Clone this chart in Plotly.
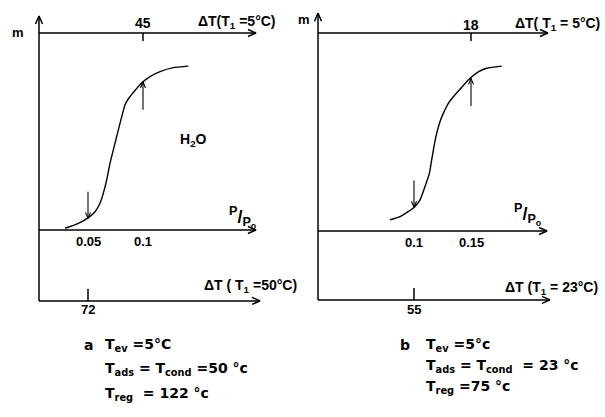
import plotly.graph_objects as go

# ---------------- data ----------------
# panel a: relative pressure P/Po and uptake m (arbitrary units, 0..1)
p_a = [0.0291, 0.0397, 0.0494, 0.0564, 0.0609, 0.0639, 0.0670, 0.0700, 0.0745,
       0.0791, 0.0836, 0.0866, 0.0927, 0.0997, 0.1064, 0.1155, 0.1275, 0.1412]
m_a = [0.009, 0.030, 0.059, 0.093, 0.136, 0.186, 0.254, 0.338, 0.440,
       0.541, 0.635, 0.665, 0.708, 0.751, 0.779, 0.804, 0.824, 0.832]
# panel b
p_b = [0.0789, 0.0877, 0.1003, 0.1053, 0.1096, 0.1135, 0.1155, 0.1175, 0.1199,
       0.1228, 0.1257, 0.1301, 0.1345, 0.1419, 0.1491, 0.1564, 0.1638, 0.1769]
m_b = [0.056, 0.072, 0.120, 0.157, 0.224, 0.291, 0.359, 0.426, 0.493,
       0.552, 0.594, 0.645, 0.678, 0.726, 0.771, 0.804, 0.822, 0.833]

# P/Po ticks
pticks_a = [0.05, 0.1]
pticklabels_a = ["0.05", "0.1"]
pticks_b = [0.1, 0.15]
pticklabels_b = ["0.1", "0.15"]

# Delta T ticks (top axis T1 = 5 C, bottom axis T1 = Tads)
dT_top_pos_a, dT_top_lab_a = 0.1, "45"
dT_bot_pos_a, dT_bot_lab_a = 0.05, "72"
dT_top_pos_b, dT_top_lab_b = 0.15, "18"
dT_bot_pos_b, dT_bot_lab_b = 0.1, "55"

# arrow markers on the curves (P/Po, m of head)
down_a, up_a = (0.05, 0.059), (0.1, 0.751)
down_b, up_b = (0.1, 0.120), (0.15, 0.771)

W, H = 605, 417
FONT = "Liberation Sans, Arial, sans-serif"
FONT_BLOCK = "DejaVu Sans, Verdana, sans-serif"

# page geometry of each panel: px = X0 + SX*P, py = Y0 - SY*m
GEOM = {"a": (33, 1100, 230, 197), "b": (300, 1140, 231, 198)}

fig = go.Figure()
ann = []


def to_px(g, x, y):
    X0, SX, Y0, SY = GEOM[g]
    return X0 + SX * x, Y0 - SY * y


def to_data(g, px, py):
    X0, SX, Y0, SY = GEOM[g]
    return (px - X0) / SX, (Y0 - py) / SY


def arrow_path(g, x0, y0, x1, y1, L=8, w=3.5):
    """line from (x0,y0) to (x1,y1) with a V head at the end (data coords)."""
    ax_, ay_ = to_px(g, x0, y0)
    bx, by = to_px(g, x1, y1)
    d = ((bx - ax_) ** 2 + (by - ay_) ** 2) ** 0.5
    ux, uy = (bx - ax_) / d, (by - ay_) / d
    h1 = to_data(g, bx - L * ux - w * uy, by - L * uy + w * ux)
    h2 = to_data(g, bx - L * ux + w * uy, by - L * uy - w * ux)
    xs = [x0, x1, None, h1[0], x1, h2[0], None]
    ys = [y0, y1, None, h1[1], y1, h2[1], None]
    return xs, ys


def text(xr, yr, x, y, s, size=13, xanchor="center", yanchor="middle"):
    ann.append(dict(xref=xr, yref=yr, x=x, y=y, text=s, showarrow=False,
                    xanchor=xanchor, yanchor=yanchor,
                    font=dict(family=FONT, size=size, color="black")))


def panel(g, xr, yr, px, py, x0, ybot, ytop_tip, x_top_end, x_mid_end, x_bot_end,
          pt, ptl, tpos, tlab, bpos, blab, dn, upa, mlab, dlab_top, dlab_bot,
          pp_lab, top_lab, bot_lab, curve_lab=None):
    # curve
    fig.add_trace(go.Scatter(x=px, y=py, mode="lines", xaxis=xr, yaxis=yr,
                             line=dict(color="black", width=1.4, shape="spline", smoothing=0.5),
                             showlegend=False, hoverinfo="skip"))
    xs, ys = [], []
    for seg in [(x0, ybot, x0, ytop_tip), (x0, 1.0, x_top_end, 1.0),
                (x0, 0.0, x_mid_end, 0.0), (x0, ybot, x_bot_end, ybot)]:
        a, b = arrow_path(g, *seg)
        xs += a
        ys += b
    # ticks
    xs += [tpos, tpos, None, bpos, bpos, None]
    ys += [1.0, 0.96, None, ybot, ybot + 0.06, None]
    fig.add_trace(go.Scatter(x=xs, y=ys, mode="lines", xaxis=xr, yaxis=yr,
                             line=dict(color="black", width=1.5),
                             showlegend=False, hoverinfo="skip"))
    # marker arrows on curve
    xs, ys = [], []
    for seg in [(dn[0], dn[1] + 0.135, dn[0], dn[1]), (upa[0], upa[1] - 0.14, upa[0], upa[1])]:
        a, b = arrow_path(g, *seg, L=6, w=2.5)
        xs += a
        ys += b
    fig.add_trace(go.Scatter(x=xs, y=ys, mode="lines", xaxis=xr, yaxis=yr,
                             line=dict(color="black", width=1.1),
                             showlegend=False, hoverinfo="skip"))
    # labels
    for v, l in zip(pt, ptl):
        text(xr, yr, v, -0.06, "<b>" + l + "</b>", size=13)
    text(xr, yr, tpos, dlab_top, "<b>" + tlab + "</b>", size=14)
    text(xr, yr, bpos, dlab_bot, "<b>" + blab + "</b>", size=13)
    text(xr, yr, mlab[0], mlab[1], "<b>m</b>", size=13)
    text(xr, yr, pp_lab[0], pp_lab[1], "<b><sup>P</sup>/<sub>P<sub>o</sub></sub></b>", size=18)
    text(xr, yr, top_lab[0], top_lab[1], top_lab[2], size=14)
    text(xr, yr, bot_lab[0], bot_lab[1], bot_lab[2], size=14)
    if curve_lab:
        text(xr, yr, curve_lab[0], curve_lab[1], curve_lab[2], size=14)


panel("a", "x", "y", p_a, m_a, 0.00545, -0.360, 1.086, 0.2027, 0.2027, 0.2064,
      pticks_a, pticklabels_a, dT_top_pos_a, dT_top_lab_a, dT_bot_pos_a, dT_bot_lab_a,
      down_a, up_a, (-0.0136, 1.005), 1.05, -0.401, (0.191, 0.061),
      (0.1855, 1.056, "<b>ΔT(T<sub>1</sub> =5°C)</b>"),
      (0.198, -0.284, "<b>ΔT ( T<sub>1</sub> =50°C)</b>"),
      (0.1455, 0.457, "<b>H<sub>2</sub>O</b>"))

panel("b", "x2", "y2", p_b, m_b, 0.0158, -0.348, 1.10, 0.2175, 0.2167, 0.2193,
      pticks_b, pticklabels_b, dT_top_pos_b, dT_top_lab_b, dT_bot_pos_b, dT_bot_lab_b,
      down_b, up_b, (0.0035, 1.066), 1.04, -0.394, (0.2, 0.081),
      (0.2263, 1.045, "<b>ΔT( T<sub>1</sub> = 5°C)</b>"),
      (0.221, -0.288, "<b>ΔT (T<sub>1</sub> = 23°C)</b>"))


# condition text blocks (paper coordinates from pixel positions)
def ptext(px, py, s, size=14, xanchor="left"):
    ann.append(dict(xref="paper", yref="paper", x=px / W, y=1 - py / H, text=s,
                    showarrow=False, xanchor=xanchor, yanchor="middle",
                    font=dict(family=FONT_BLOCK, size=size, color="black")))


ptext(82, 345, "<b>a</b>")
ptext(103, 345, "<b>T<sub>ev</sub> =5°C</b>")
ptext(103, 369, "<b>T<sub>ads</sub> = T<sub>cond</sub> =50 °c</b>")
ptext(103, 394, "<b>T<sub>reg</sub>  = 122 °c</b>")
ptext(398, 345, "<b>b</b>")
ptext(424, 345, "<b>T<sub>ev</sub> =5°c</b>")
ptext(424, 366, "<b>T<sub>ads</sub> = T<sub>cond</sub>  = 23 °c</b>")
ptext(424, 387, "<b>T<sub>reg</sub> =75 °c</b>")

# axes: hidden, positioned so that data map to the page geometry
ax_common = dict(visible=False, fixedrange=True)
fig.update_layout(
    width=W, height=H,
    margin=dict(l=0, r=0, t=0, b=0),
    paper_bgcolor="white", plot_bgcolor="white",
    xaxis=dict(domain=[0, 300 / W], range=[(0 - 33) / 1100, (300 - 33) / 1100], **ax_common),
    yaxis=dict(domain=[0, 1], range=[(230 - 417) / 197, 230 / 197], **ax_common),
    xaxis2=dict(domain=[300 / W, 1], range=[0, (605 - 300) / 1140], anchor="y2", **ax_common),
    yaxis2=dict(domain=[0, 1], range=[(231 - 417) / 198, 231 / 198], anchor="x2", **ax_common),
    annotations=ann,
)

fig.write_html("out.html", config={"displayModeBar": False},
               post_script="document.body.style.margin='0';document.body.style.overflow='hidden';")
